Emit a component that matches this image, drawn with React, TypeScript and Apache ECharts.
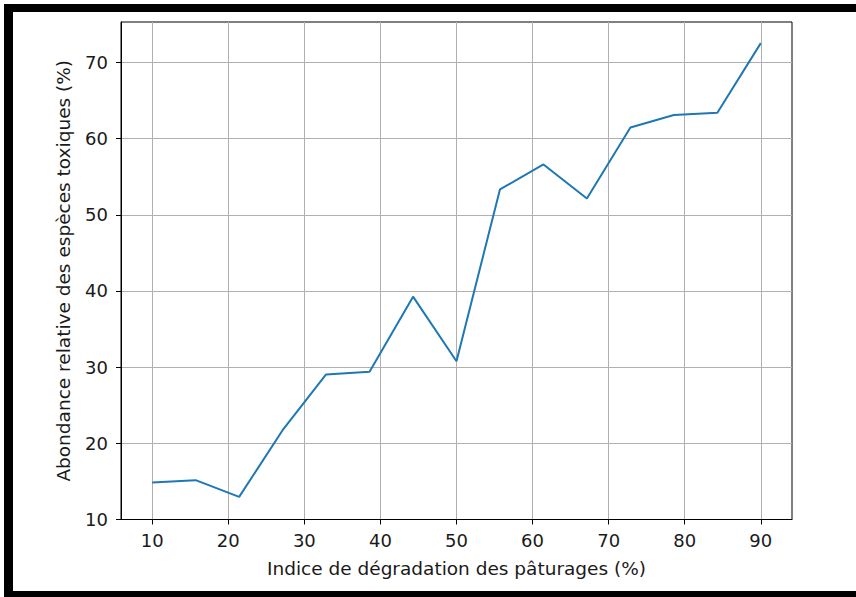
import React, { useEffect, useRef } from "react";
import * as echarts from "echarts";

const xValues = [10, 15.71, 21.43, 27.14, 32.86, 38.57, 44.29, 50, 55.71, 61.43, 67.14, 72.86, 78.57, 84.29, 90];
const yValues = [14.86, 15.16, 12.97, 21.72, 29.04, 29.38, 39.25, 30.78, 53.32, 56.6, 52.14, 61.46, 63.1, 63.38, 72.53];
const xTicks = [10, 20, 30, 40, 50, 60, 70, 80, 90];
const yTicks = [10, 20, 30, 40, 50, 60, 70];
const xLabel = "Indice de dégradation des pâturages (%)";
const yLabel = "Abondance relative des espèces toxiques (%)";

export default function App() {
  const ref = useRef<HTMLDivElement>(null);
  useEffect(() => {
    if (!ref.current) return;
    const chart = echarts.init(ref.current, null, { renderer: "svg" });
    const font = "DejaVu Sans";
    chart.setOption({
      animation: false,
      backgroundColor: "#ffffff",
      textStyle: { fontFamily: font },
      grid: {
        left: 121,
        right: 64,
        top: 22,
        bottom: 77.5,
        show: true,
        borderColor: "#000000",
        borderWidth: 1,
        backgroundColor: "transparent",
      },
      xAxis: {
        type: "value",
        min: 5.9,
        max: 94.1,
        name: xLabel,
        nameLocation: "middle",
        nameGap: 39,
        nameTextStyle: { fontFamily: font, fontSize: 18.5, color: "#1a1a1a" },
        axisLine: { show: true, onZero: false, lineStyle: { color: "#000", width: 1 } },
        axisTick: { show: true, customValues: xTicks, length: 5, lineStyle: { color: "#000", width: 1 } },
        axisLabel: { customValues: xTicks, margin: 12, fontFamily: font, fontSize: 18, color: "#1a1a1a" },
        splitLine: { show: true, customValues: xTicks, lineStyle: { color: "#b0b0b0", width: 1 } },
      },
      yAxis: {
        type: "value",
        min: 10,
        max: 75.3,
        name: yLabel,
        nameLocation: "middle",
        nameGap: 48,
        nameTextStyle: { fontFamily: font, fontSize: 18.5, color: "#1a1a1a" },
        axisLine: { show: true, onZero: false, lineStyle: { color: "#000", width: 1 } },
        axisTick: { show: true, customValues: yTicks, length: 5, lineStyle: { color: "#000", width: 1 } },
        axisLabel: { customValues: yTicks, margin: 13, fontFamily: font, fontSize: 18, color: "#1a1a1a" },
        splitLine: { show: true, customValues: yTicks, lineStyle: { color: "#b0b0b0", width: 1 } },
      },
      series: [
        {
          type: "line",
          data: xValues.map((x, i) => [x, yValues[i]]),
          showSymbol: false,
          symbol: "none",
          lineStyle: { color: "#1f77b4", width: 2 },
          z: 3,
        },
      ],
      graphic: [
        { type: "rect", shape: { x: 4, y: 4, width: 852, height: 8 }, style: { fill: "#000" } },
        { type: "rect", shape: { x: 4, y: 4, width: 9, height: 593 }, style: { fill: "#000" } },
        { type: "rect", shape: { x: 4, y: 591, width: 852, height: 6 }, style: { fill: "#000" } },
      ],
    });
    return () => chart.dispose();
  }, []);
  return (
    <div
      ref={ref}
      style={{ position: "fixed", left: 0, top: 0, width: 856, height: 597, background: "#fff" }}
    />
  );
}
